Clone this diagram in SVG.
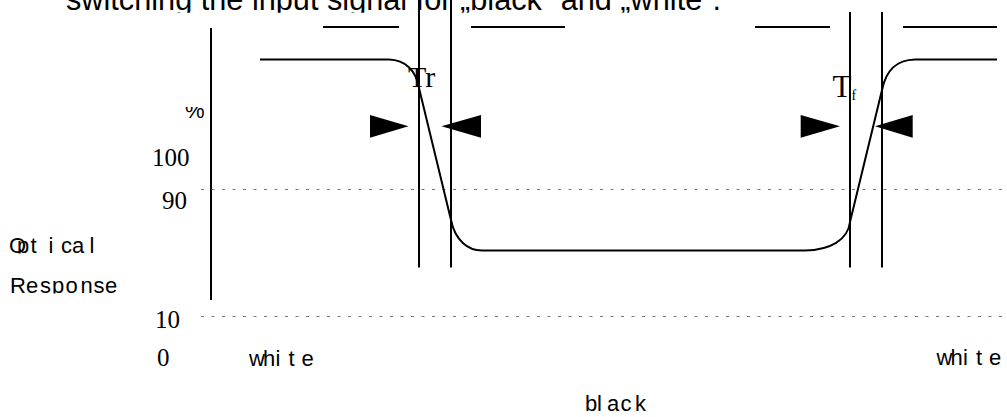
<svg xmlns="http://www.w3.org/2000/svg" width="1007" height="417" viewBox="0 0 1007 417">
<style>
.ln{stroke:#000;stroke-width:2;fill:none}
.dot{stroke:#777;stroke-width:1.2;stroke-dasharray:3 7.5;fill:none}
.tri{fill:#000;stroke:none}
.sans{font-family:"Liberation Sans",Arial,sans-serif;fill:#000}
.serif{font-family:"Liberation Serif","Times New Roman",serif;fill:#000}
</style>
<defs>
<clipPath id="cTitle"><rect x="0" y="0" width="1007" height="12.7"/></clipPath>
<clipPath id="cPct"><rect x="150" y="107" width="80" height="20"/></clipPath>
<clipPath id="cOpt"><rect x="0" y="225" width="140" height="28.5"/></clipPath>
<clipPath id="cResp"><rect x="0" y="265" width="140" height="28.5"/></clipPath>
</defs>
<rect width="1007" height="417" fill="#fff"/>
<g id="title">
<text class="sans" x="66" y="9.5" font-size="30.7" clip-path="url(#cTitle)">switching the input signal for „black“ and „white“.</text>
</g>
<g id="axis">
<line class="ln" x1="211" y1="28" x2="211" y2="300"/>
<text class="sans" x="185" y="118" font-size="22" clip-path="url(#cPct)">%</text>
<text class="serif" x="152" y="165.5" font-size="25">100</text>
<text class="serif" x="162" y="209" font-size="25">90</text>
<text class="serif" x="155" y="328" font-size="25">10</text>
<text class="serif" x="157" y="366" font-size="25">0</text>
<text class="sans" font-size="22" x="9 17 30.5 48.5 61 72 89.5" y="253" clip-path="url(#cOpt)">Optical</text>
<text class="sans" font-size="22" x="10 26 40 52 65.5 80.5 93.5 105" y="292.5" clip-path="url(#cResp)">Response</text>
</g>
<g id="thresholds">
<line class="dot" x1="201" y1="189.5" x2="1007" y2="189.5"/>
<line class="dot" x1="201" y1="316.5" x2="1007" y2="316.5"/>
</g>
<g id="input-signal">
<line class="ln" x1="323" y1="27" x2="399" y2="27"/>
<line class="ln" x1="471" y1="27" x2="565" y2="27"/>
<line class="ln" x1="755" y1="27" x2="830" y2="27"/>
<line class="ln" x1="903" y1="27" x2="997" y2="27"/>
</g>
<g id="markers">
<line class="ln" x1="419" y1="0" x2="419" y2="267.5"/>
<line class="ln" x1="451" y1="0" x2="451" y2="267.5"/>
<line class="ln" x1="850" y1="12" x2="850" y2="267.5"/>
<line class="ln" x1="882" y1="12" x2="882" y2="267.5"/>
<polygon class="tri" points="370,115 408.5,126.3 370,137.7"/>
<polygon class="tri" points="481,115 441.5,126.3 481,137.7"/>
<polygon class="tri" points="800.7,115 840,126.3 800.7,137.7"/>
<polygon class="tri" points="912.7,115 875,126.3 912.7,137.7"/>
<text class="serif" x="408" y="87" font-size="30">Tr</text>
<text class="serif" x="832.5" y="96.5" font-size="31">T</text>
<text class="serif" x="851.5" y="100" font-size="14">f</text>
</g>
<g id="response">
<path class="ln" d="M260,59.5 H389 C405,60 416,70 419,88 L451,220 C455,240 468,251 483,250.5 H805 C830,250 848,240 850,222 L882,90 C886,70 896,60 915,59.5 H997"/>
</g>
<g id="labels">
<text class="sans" font-size="22" x="249 263 275.5 288.5 301.5" y="366">white</text>
<text class="sans" font-size="22" x="936.5 950.5 963 976 989" y="365">white</text>
<text class="sans" font-size="22" x="585 597 607 620.5 635" y="410.5">black</text>
</g>
</svg>
